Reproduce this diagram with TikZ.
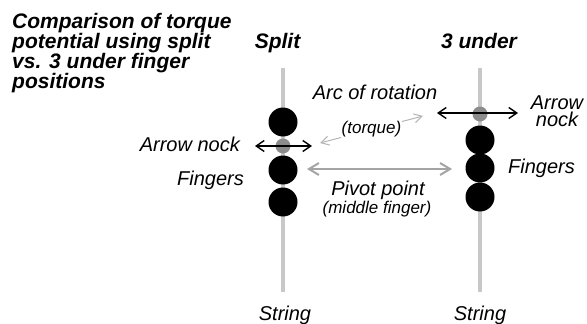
\documentclass[tikz,border=0pt]{standalone}
\usepackage{fontspec}
\setmainfont{Liberation Sans}
\usetikzlibrary{arrows.meta}
\definecolor{stringgray}{HTML}{C8C8C8}
\definecolor{nockgray}{HTML}{8C8C8C}
\definecolor{pivotgray}{HTML}{A4A4A4}
\definecolor{arcgray}{HTML}{B4B4B4}
\begin{document}
\begin{tikzpicture}[x=1pt,y=-1pt,
  lbl/.style={font=\fontsize{20}{20}\selectfont\itshape, inner sep=0pt},
  smalllbl/.style={font=\fontsize{17}{17}\selectfont\itshape, inner sep=0pt},
  head/.style={font=\fontsize{21}{21}\selectfont\bfseries\itshape, inner sep=0pt},
  stringline/.style={draw=stringgray, line width=4pt},
  finger/.style={circle, fill=black, minimum size=29pt, inner sep=0pt},
  nockdot/.style={circle, fill=nockgray, minimum size=15pt, inner sep=0pt},
  nockarrow/.style={{Straight Barb[length=8pt,width=11pt]}-{Straight Barb[length=8pt,width=11pt]}, line width=1.4pt, draw=black},
  pivotarrow/.style={{Straight Barb[length=10pt,width=12pt]}-{Straight Barb[length=10pt,width=12pt]}, line width=2pt, draw=pivotgray},
  arcarrow/.style={{Straight Barb[length=8pt,width=9pt]}-{Straight Barb[length=8pt,width=9pt]}, line width=1pt, draw=arcgray},
]
\useasboundingbox (0,0) rectangle (587,324);

% title and headings
\node[head, anchor=base west] (title1) at (12,28) {Comparison of torque};
\node[head, anchor=base west] (title2) at (12,48) {potential using split};
\node[head, anchor=base west] (title3) at (12,68) {vs. 3 under finger};
\node[head, anchor=base west] (title4) at (12,88) {positions};
\node[head, anchor=base] (split) at (277.5,48) {Split};
\node[head, anchor=base] (under) at (479,48) {3 under};

% strings
\coordinate (sLtop) at (283,68);
\coordinate (sLbot) at (283,292);
\coordinate (sRtop) at (480,68);
\coordinate (sRbot) at (480,292);
\draw[stringline] (sLtop) -- (sLbot);
\draw[stringline] (sRtop) -- (sRbot);

% split fingers
\node[finger] (lf1) at (283,122) {};
\node[nockdot] (lnock) at (283,146) {};
\node[finger] (lf2) at (283,170) {};
\node[finger] (lf3) at (283,202) {};

% 3 under fingers
\node[nockdot] (rnock) at (480,114) {};
\node[finger] (rf1) at (480,140) {};
\node[finger] (rf2) at (480,168) {};
\node[finger] (rf3) at (480,197) {};

% nock arrows
\coordinate (lnA) at (255,146);
\coordinate (lnB) at (312,146);
\draw[nockarrow] (lnA) -- (lnB);
\coordinate (rnA) at (437,113);
\coordinate (rnB) at (518,113);
\draw[nockarrow] (rnA) -- (rnB);

% arc of rotation
\coordinate (arcL) at (320,143);
\coordinate (arcR) at (423,116);
\draw[arcarrow] (arcL) -- node[smalllbl, fill=white, inner sep=1pt] (torque) {(torque)} (arcR);
\node[lbl, anchor=base] (arc) at (375,99) {Arc of rotation};

% pivot
\coordinate (pvL) at (307,169);
\coordinate (pvR) at (452,169);
\draw[pivotarrow] (pvL) -- (pvR);
\node[lbl, anchor=base] (pivot) at (378,195) {Pivot point};
\node[smalllbl, anchor=base] (middle) at (377,213) {(middle finger)};

% labels
\node[lbl, anchor=base east] (lnocklbl) at (240,151) {Arrow nock};
\node[lbl, anchor=base east] (lfing) at (244,185) {Fingers};
\node[lbl, anchor=base west] (rfing) at (508,173) {Fingers};
\node[lbl, anchor=base] (rarrow) at (557,109) {Arrow};
\node[lbl, anchor=base] (rnocklbl) at (557,126) {nock};
\node[lbl, anchor=base] (strL) at (285,320) {String};
\node[lbl, anchor=base] (strR) at (480,320) {String};
\end{tikzpicture}
\end{document}
